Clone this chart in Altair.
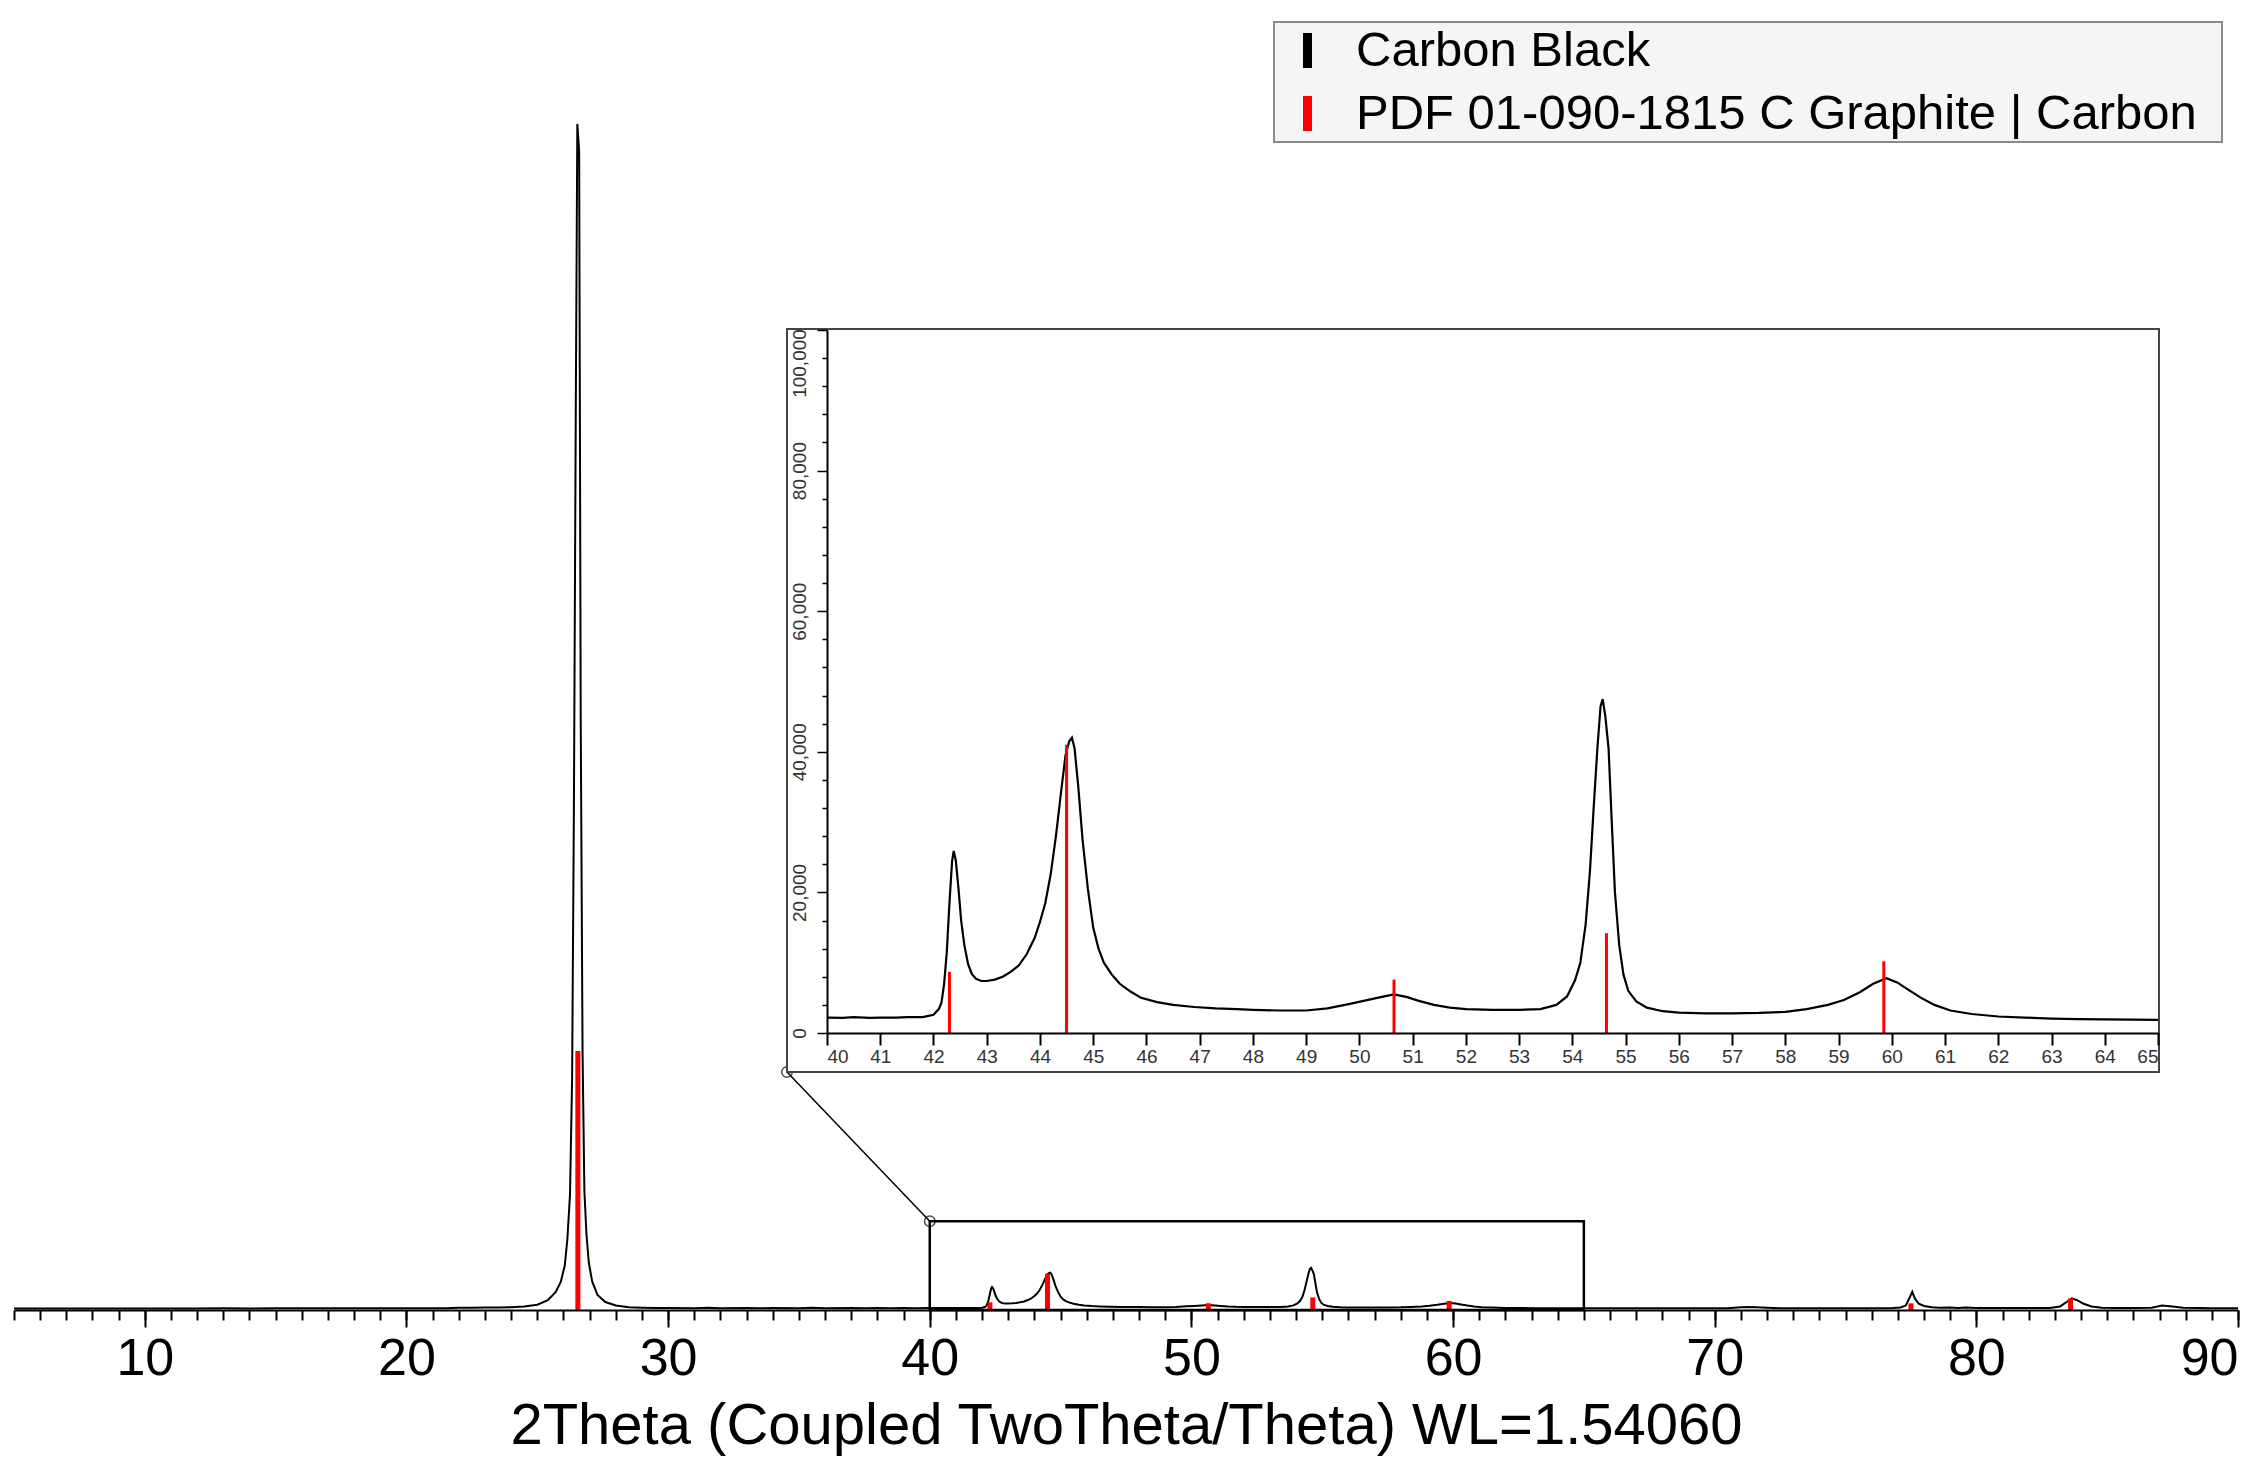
import altair as alt
import pandas as pd

# ---------------- text ----------------
SERIES = ["Carbon Black", "PDF 01-090-1815 C Graphite | Carbon"]
SERIES_COLORS = ["#000000", "#ff0000"]
X_TITLE = "2Theta (Coupled TwoTheta/Theta) WL=1.54060"
FONT = "Liberation Sans"

# ---------------- measured pattern (2theta, counts) ----------------
TWO_THETA = [
    5.0, 6.0, 7.0, 8.0, 9.0, 10.0, 11.0, 12.0, 13.0, 14.0, 15.0, 16.0,
    17.0, 18.0, 19.0, 20.0, 21.0, 21.5, 22.0, 22.5, 23.0, 23.5, 24.0, 24.5,
    25.0, 25.4, 25.7, 25.9, 26.05, 26.15, 26.25, 26.33, 26.4, 26.47, 26.53, 26.6,
    26.66, 26.73, 26.8, 26.88, 26.97, 27.1, 27.3, 27.6, 28.0, 28.5, 29.0,
    29.5, 30.0, 31.0, 31.5, 32.0, 33.0, 33.5, 34.0, 35.0, 35.5, 36.0, 37.0,
    37.5, 38.0, 38.5, 39.0, 39.5,
    40.0, 40.3, 40.5, 40.8, 41.0, 41.3, 41.5, 41.8, 42.0, 42.1,
    42.15, 42.2, 42.25, 42.3, 42.35, 42.38, 42.42, 42.47, 42.52, 42.58,
    42.65, 42.72, 42.8, 42.9, 43.0, 43.15, 43.3, 43.45, 43.6, 43.75,
    43.9, 44.0, 44.1, 44.2, 44.3, 44.4, 44.48, 44.55, 44.6, 44.65,
    44.72, 44.8, 44.9, 45.0, 45.1, 45.2, 45.35, 45.5, 45.7, 45.9,
    46.2, 46.5, 46.9, 47.3, 47.7, 48.0, 48.5, 49.0, 49.4, 49.8,
    50.1, 50.4, 50.65, 50.9, 51.1, 51.4, 51.7, 52.0, 52.5, 53.0,
    53.4, 53.7, 53.9, 54.05, 54.15, 54.25, 54.33, 54.4, 54.47, 54.53,
    54.57, 54.62, 54.68, 54.74, 54.8, 54.88, 54.96, 55.05, 55.2, 55.4,
    55.7, 56.0, 56.5, 57.0, 57.5, 58.0, 58.4, 58.8, 59.1, 59.4,
    59.65, 59.9, 60.1, 60.3, 60.55, 60.8, 61.1, 61.5, 62.0, 62.5,
    63.0, 63.5, 64.0, 64.5, 65.0,
    65.5, 66.0, 66.5, 67.0, 67.5, 68.0, 68.5, 69.0, 69.5, 70.0,
    70.5, 71.0, 71.3, 71.6, 72.0, 72.5, 73.0, 74.0, 75.0, 76.0,
    76.8, 77.1, 77.3, 77.45, 77.55, 77.65, 77.8, 78.0, 78.3, 78.6,
    79.0, 79.3, 79.6, 80.0, 80.5, 81.0, 82.0, 82.8, 83.2, 83.45,
    83.65, 83.85, 84.1, 84.4, 84.8, 85.3, 86.0, 86.7, 87.1, 87.5,
    87.9, 88.5, 89.0, 90.0,
]
COUNTS = [
    1600, 1700, 1650, 1750, 1700, 1800, 1750, 1800, 1850, 1800, 1900, 1850,
    1900, 1950, 1900, 2000, 2050, 2100, 2400, 2600, 2700, 2900, 3200, 4000,
    6000, 11000, 20000, 32000, 50000, 80000, 130000, 260000, 570000, 1010000, 1337000, 1306000,
    664000, 290000, 134000, 85000, 53000, 32000, 17000, 9000, 5000, 3200, 2600,
    2300, 2200, 2100, 2400, 2000, 2200, 1900, 2300, 2000, 2400, 2100, 2300,
    2000, 2200, 1900, 2200, 2100,
    2200, 2150, 2250, 2150, 2200, 2180, 2250, 2250, 2600, 3400,
    4300, 7000, 11500, 18500, 24500, 25900, 24500, 20500, 16000, 12500,
    9800, 8400, 7700, 7400, 7400, 7600, 8000, 8700, 9600, 11200,
    13500, 15800, 18500, 22500, 28000, 34500, 39500, 41500, 42000, 40500,
    35000, 27500, 20500, 15000, 12000, 10000, 8300, 7000, 5900, 5000,
    4400, 4000, 3700, 3500, 3400, 3300, 3200, 3200, 3500, 4100,
    4600, 5100, 5500, 5100, 4600, 4000, 3600, 3400, 3300, 3300,
    3400, 4000, 5200, 7500, 10000, 15500, 23000, 32000, 40500, 46500,
    47500, 45000, 40500, 30000, 20000, 12500, 8300, 6000, 4500, 3600,
    3100, 2900, 2800, 2800, 2850, 3000, 3400, 4000, 4700, 5800,
    7000, 7800, 7200, 6200, 5000, 4000, 3200, 2700, 2350, 2200,
    2050, 1980, 1950, 1900, 1880,
    1900, 2000, 1900, 1950, 1900, 2000, 1950, 2000, 1950, 2000,
    2100, 3000, 3300, 3200, 2600, 2100, 2000, 2050, 2000, 2050,
    2200, 2800, 5000, 14000, 20500, 13000, 7000, 4500, 3000, 2500,
    2900, 2300, 2700, 2300, 2200, 2300, 2200, 2300, 4000, 9000,
    13200, 11000, 7000, 4000, 2600, 2300, 2200, 2500, 5000, 4000,
    2500, 2200, 2100, 2000,
]

# reference (PDF) stick pattern
REF_POS = [26.55, 42.3, 44.5, 50.65, 54.64, 59.85, 77.5, 83.6]
REF_INT = [292000, 8700, 41000, 7600, 14200, 10200, 7500, 13000]

# axes / zoom window
MAIN_X_DOMAIN = [5, 90]
MAIN_Y_DOMAIN = [0, 1400000]
MAIN_MAJOR_TICKS = [10, 20, 30, 40, 50, 60, 70, 80, 90]
MAIN_MINOR_TICKS = list(range(5, 91))
ZOOM_X = [40, 65]
ZOOM_Y = [0, 100000]
INSET_X_TICKS = [40 + 0.5 * i for i in range(51)]
INSET_Y_TICKS = list(range(0, 100001, 2000))

# ---------------- layout (pixels, relative to the main plot area) ----------------
W, H = 2224, 1242
INSET_X_RANGE = [813, 2144]
INSET_Y_RANGE = [965, 262]
BOX_L, BOX_T, BOX_R, BOX_B = 773, 261, 2145, 1004
LEG_L, LEG_T, LEG_R, LEG_B = 1260, -46, 2208, 74

spec_df = pd.DataFrame({"x": TWO_THETA, "y": COUNTS, "series": SERIES[0]})
ref_df = pd.DataFrame({"x": REF_POS, "y": REF_INT, "series": SERIES[1]})
inset_df = spec_df[(spec_df.x >= ZOOM_X[0]) & (spec_df.x <= ZOOM_X[1])]
inset_ref_df = ref_df[(ref_df.x >= ZOOM_X[0]) & (ref_df.x <= ZOOM_X[1])]
zoom_df = pd.DataFrame({"x": [ZOOM_X[0]], "x2": [ZOOM_X[1]], "y": [ZOOM_Y[0]], "y2": [ZOOM_Y[1]]})

color_scale = alt.Scale(domain=SERIES, range=SERIES_COLORS)
legend = alt.Legend(
    orient="none", legendX=1266, legendY=-45, title=None,
    symbolType="M0,-0.76L0,0.76", symbolSize=2116, symbolStrokeWidth=9,
    labelFontSize=49, labelFont=FONT, labelColor="black", labelLimit=2000,
    labelOffset=21, rowPadding=-8, padding=0,
    fillColor="transparent", strokeColor="transparent",
)

main_x_scale = alt.Scale(domain=MAIN_X_DOMAIN, nice=False, zero=False)
main_y_scale = alt.Scale(domain=MAIN_Y_DOMAIN, nice=False, zero=False)

major_axis = alt.Axis(
    orient="bottom", values=MAIN_MAJOR_TICKS, format="d",
    tickSize=17, labelFontSize=52, labelFont=FONT, labelColor="black", labelPadding=6,
    labelFlush=True, labelOverlap=False,
    domainColor="black", domainWidth=2, tickColor="black", tickWidth=2,
    title=X_TITLE, titleFont=FONT, titleFontSize=58, titleFontWeight="normal",
    titleColor="black", titleBaseline="alphabetic", titleY=133,
    grid=False, zindex=1,
)
minor_axis = alt.Axis(
    orient="bottom", values=MAIN_MINOR_TICKS, tickSize=10, tickColor="black",
    tickWidth=2, labels=False, domain=False, title=None, grid=False, zindex=1,
)

legend_box = alt.Chart(zoom_df).mark_rect(
    fill="#f4f5f6", stroke="#8a8a8a", strokeWidth=2
).encode(
    x=alt.value(LEG_L), x2=alt.value(LEG_R), y=alt.value(LEG_T), y2=alt.value(LEG_B)
)
main_line = alt.Chart(spec_df).mark_line(strokeWidth=2).encode(
    x=alt.X("x:Q", scale=main_x_scale, axis=major_axis),
    y=alt.Y("y:Q", scale=main_y_scale, axis=None),
    color=alt.Color("series:N", scale=color_scale, legend=legend),
)
main_sticks = alt.Chart(ref_df).mark_rule(strokeWidth=5).encode(
    x=alt.X("x:Q", axis=minor_axis),
    y=alt.Y("y:Q", axis=None),
    y2=alt.datum(0),
    color=alt.Color("series:N", scale=color_scale, legend=legend),
)
zoom_rect = alt.Chart(zoom_df).mark_rect(
    fillOpacity=0, stroke="black", strokeWidth=2.5
).encode(
    x=alt.X("x:Q", axis=None), x2="x2",
    y=alt.Y("y:Q", axis=None), y2="y2",
)
conn_rule = alt.Chart(zoom_df).mark_rule(color="black", strokeWidth=1.5).encode(
    x=alt.X("x:Q", axis=None), y=alt.Y("y2:Q", axis=None),
    x2=alt.value(BOX_L), y2=alt.value(BOX_B),
)
conn_pt1 = alt.Chart(zoom_df).mark_point(
    shape="circle", filled=False, color="black", size=110, strokeWidth=1.5
).encode(x=alt.X("x:Q", axis=None), y=alt.Y("y2:Q", axis=None))
conn_pt2 = alt.Chart(zoom_df).mark_point(
    shape="circle", filled=False, color="black", size=110, strokeWidth=1.5
).encode(x=alt.value(BOX_L), y=alt.value(BOX_B))

main = alt.layer(
    legend_box, main_line, main_sticks, zoom_rect, conn_rule, conn_pt1, conn_pt2
).resolve_axis(x="independent")

# ---------------- inset ----------------
inset_x_axis = alt.Axis(
    orient="bottom", offset=INSET_Y_RANGE[0] - H, values=INSET_X_TICKS,
    tickSize={"condition": {"test": "datum.value % 1 === 0", "value": 12}, "value": 7},
    labelExpr="datum.value % 1 === 0 ? datum.label : ''", format="d",
    labelFontSize=19, labelFont=FONT, labelColor="#333333", labelPadding=2,
    labelFlush=True, labelOverlap=False,
    domainColor="black", domainWidth=2, tickColor="black", tickWidth=2,
    title=None, grid=False, zindex=1,
)
inset_y_axis = alt.Axis(
    orient="left", offset=-INSET_X_RANGE[0], values=INSET_Y_TICKS,
    tickSize={"condition": {"test": "datum.value % 10000 === 0", "value": 10}, "value": 5},
    labelExpr="datum.value % 20000 === 0 ? datum.label : ''", format=",d",
    labelAngle=270, labelFontSize=19, labelFont=FONT, labelColor="#333333",
    labelPadding=8, labelOverlap=False,
    labelOffset={"condition": {"test": "datum.value === 100000", "value": 33}, "value": 0},
    domainColor="black", domainWidth=2, tickColor="black", tickWidth=1.5,
    title=None, grid=False, zindex=1,
)
inset_x_scale = alt.Scale(domain=ZOOM_X, range=INSET_X_RANGE, nice=False, zero=False)
inset_y_scale = alt.Scale(domain=ZOOM_Y, range=INSET_Y_RANGE, nice=False, zero=False)

inset_box = alt.Chart(zoom_df).mark_rect(
    fill="white", stroke="#444444", strokeWidth=2
).encode(
    x=alt.value(BOX_L), x2=alt.value(BOX_R), y=alt.value(BOX_T), y2=alt.value(BOX_B)
)
inset_line = alt.Chart(inset_df).mark_line(strokeWidth=2.2).encode(
    x=alt.X("x:Q", scale=inset_x_scale, axis=inset_x_axis),
    y=alt.Y("y:Q", scale=inset_y_scale, axis=inset_y_axis),
    color=alt.Color("series:N", scale=color_scale, legend=legend),
)
inset_sticks = alt.Chart(inset_ref_df).mark_rule(strokeWidth=3).encode(
    x="x:Q", y="y:Q", y2=alt.datum(0),
    color=alt.Color("series:N", scale=color_scale, legend=legend),
)
inset = alt.layer(inset_box, inset_line, inset_sticks)

chart = (
    alt.layer(main, inset)
    .resolve_scale(x="independent", y="independent")
    .properties(
        width=W, height=H,
        padding={"left": 6, "top": 60, "right": 8, "bottom": 150},
        autosize=alt.AutoSizeParams(type="none"),
        background="white",
        view=alt.ViewBackground(stroke="transparent", strokeWidth=0),
    )
    .configure_view(stroke="transparent", strokeWidth=0)
    .configure(font=FONT)
)

chart.save("out.html", embed_options={"renderer": "svg", "actions": False})
